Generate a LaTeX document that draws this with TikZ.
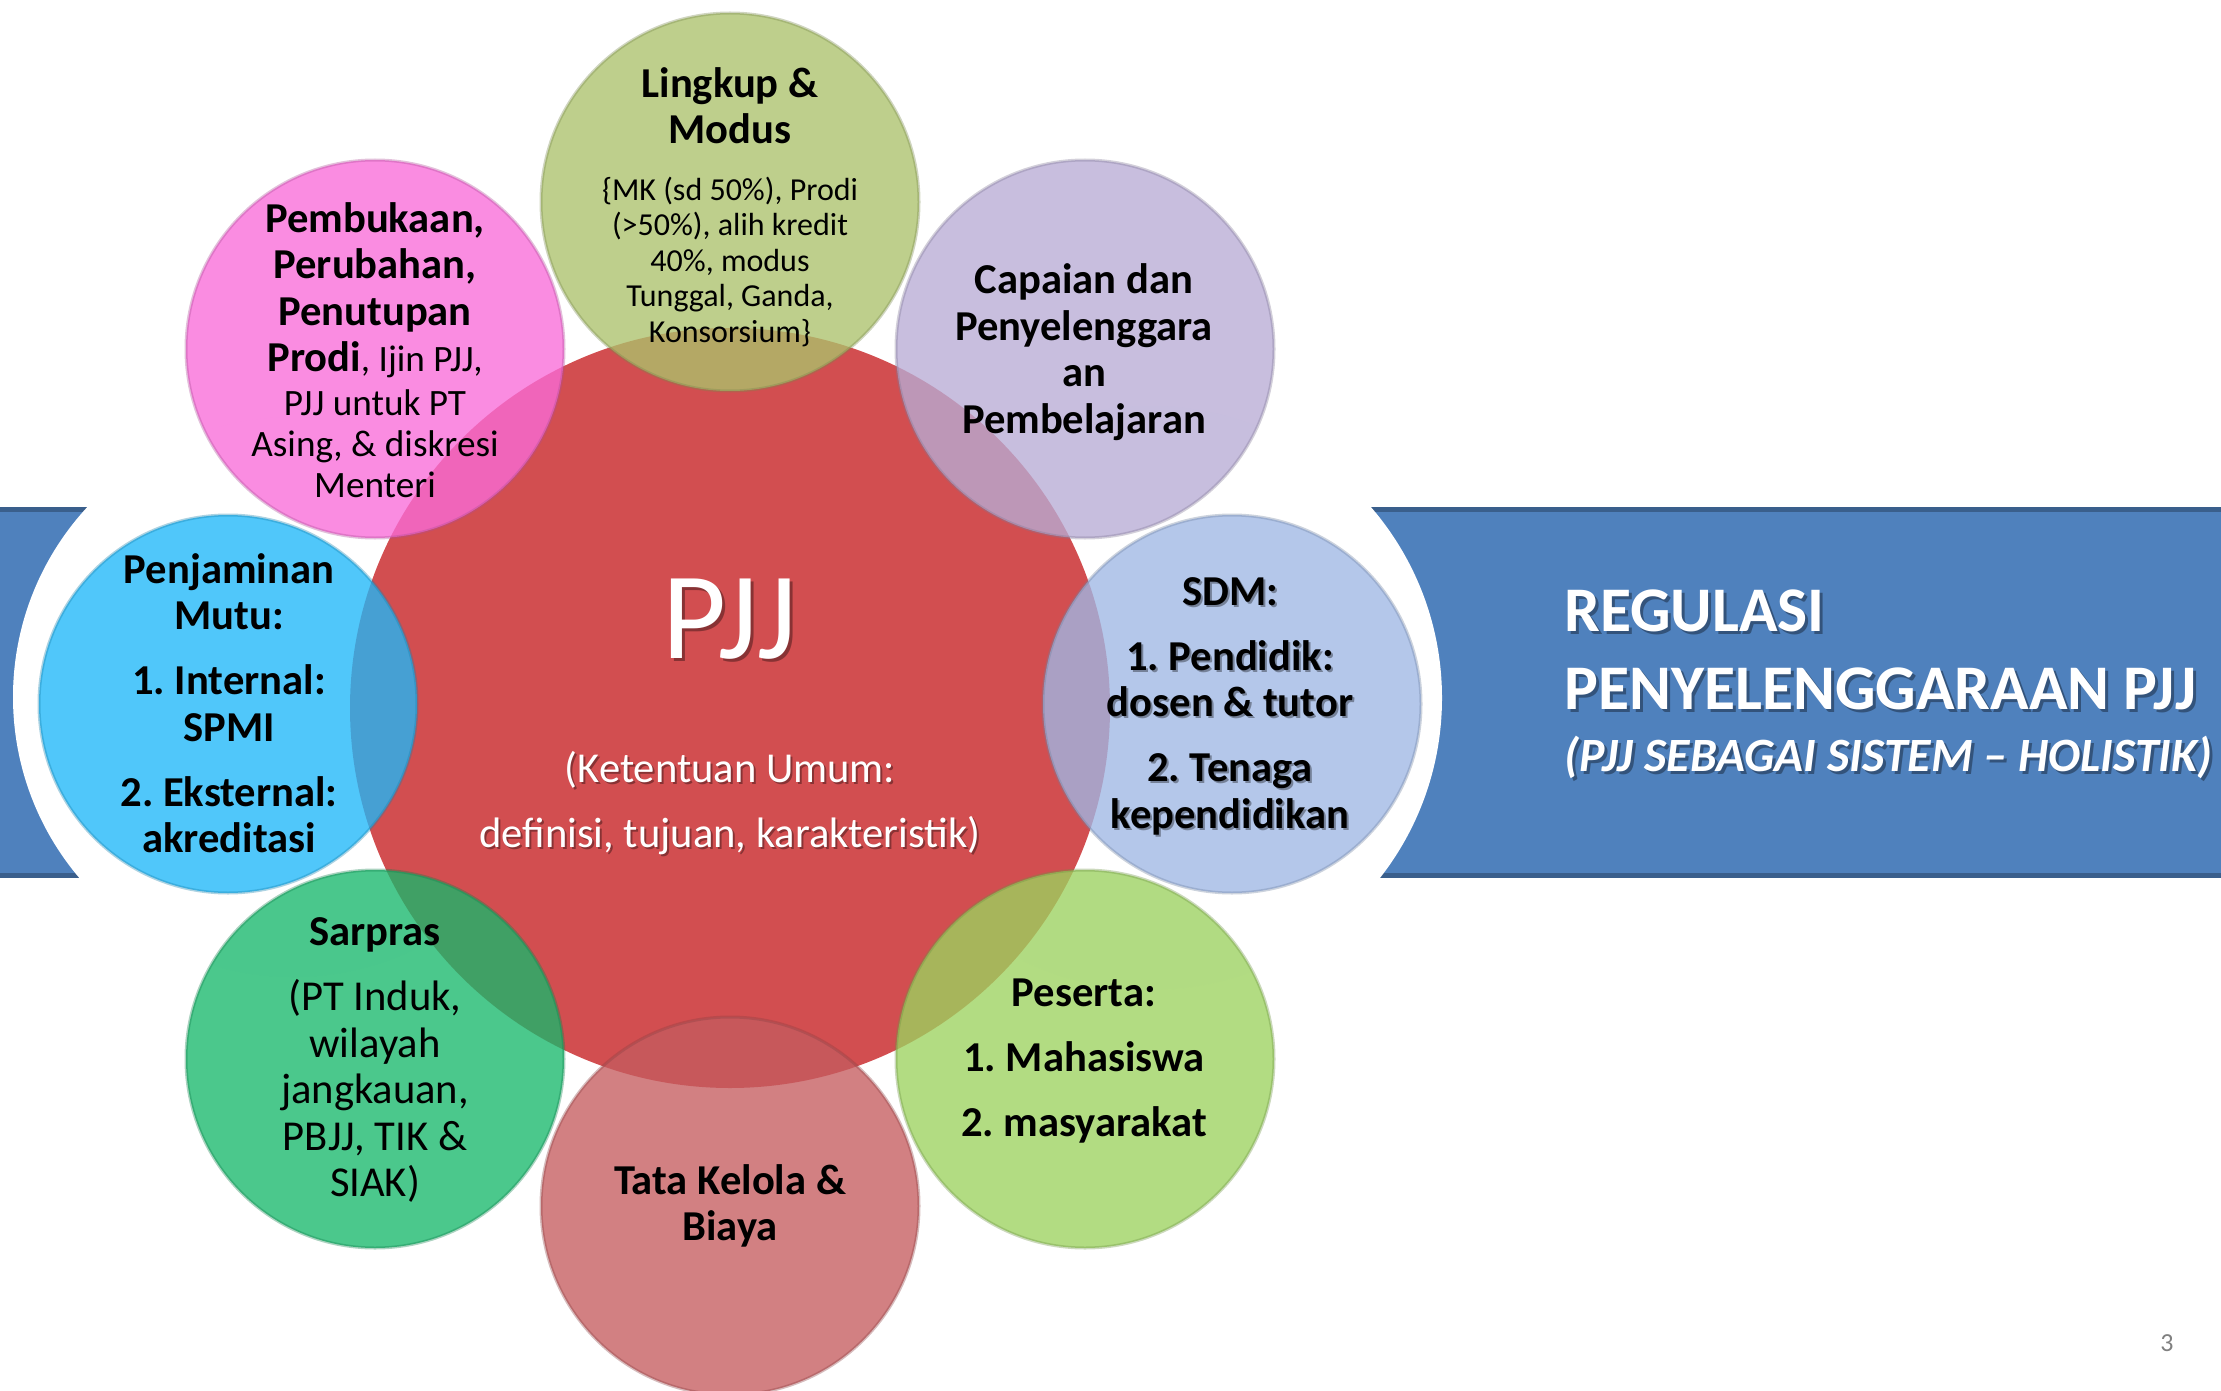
\documentclass[tikz,border=0pt]{standalone}
\usepackage{fontspec}
\setmainfont{Carlito}

% palette
\definecolor{bandblue}{RGB}{79,129,189}
\definecolor{bandedge}{RGB}{58,95,140}
\definecolor{hubred}{RGB}{210,78,80}
\definecolor{cLingkup}{RGB}{172,194,108}
\definecolor{cBuka}{RGB}{249,108,217}
\definecolor{cCapai}{RGB}{184,172,213}
\definecolor{cSdm}{RGB}{159,184,229}
\definecolor{cPeserta}{RGB}{156,210,95}
\definecolor{cTata}{RGB}{197,92,95}
\definecolor{cSarpras}{RGB}{24,184,108}
\definecolor{cMutu}{RGB}{31,184,249}
\definecolor{pagegray}{RGB}{128,128,128}

\newcommand\bubtitle{\fontsize{21.3}{23.25}\selectfont\bfseries}
\newcommand\bubreg{\fontsize{21.3}{23.25}\selectfont\mdseries}
\newcommand\bubsmall{\fontsize{16}{17.5}\selectfont\mdseries}
\newcommand\bubmid{\fontsize{18.6}{20.5}\selectfont\mdseries}

\begin{document}
\frenchspacing
\begin{tikzpicture}[x=0.5pt,y=-0.5pt,
  bubble/.style={circle, minimum size=189pt, inner sep=0pt, fill=#1,
    fill opacity=0.78, draw=#1!70!black, draw opacity=0.35, line width=1.5pt},
  label/.style={align=center, inner sep=0pt, text=black},
  shade/.style={text=black, text opacity=0.35},
]
\useasboundingbox (0,0) rectangle (2221,1391);

% ---- blue band, cut by two white arcs around the cluster ----
\fill[bandblue] (0,507) rectangle (300,878);
\fill[bandedge] (0,507) rectangle (300,512);
\fill[bandedge] (0,873) rectangle (300,878);
\fill[white] (293,697) circle[radius=280];

\fill[bandblue] (1140,507) rectangle (2221,878);
\fill[bandedge] (1140,507) rectangle (2221,512);
\fill[bandedge] (1140,873) rectangle (2221,878);
\fill[white] (1150,698) circle[radius=292];

% ---- hub ----
\node[circle, minimum size=380pt, inner sep=0pt, fill=hubred] (hub) at (730,708) {};

% ---- satellites ----
\node[bubble=cLingkup] (lingkup) at (730,202) {};
\node[bubble=cCapai]   (capaian) at (1085,349) {};
\node[bubble=cSdm]     (sdm) at (1232,704) {};
\node[bubble=cPeserta] (peserta) at (1085,1059) {};
\node[bubble=cTata]    (tata) at (730,1206) {};
\node[bubble=cSarpras] (sarpras) at (375,1059) {};
\node[bubble=cMutu]    (mutu) at (228,704) {};
\node[bubble=cBuka]    (buka) at (375,349) {};

% ---- hub text ----
\node[label, shade, font=\fontsize{62}{66}\selectfont] (pjjShade) at (733,622) {PJJ};
\node[label, text=white, font=\fontsize{62}{66}\selectfont] (pjjTitle) at (730,619) {PJJ};
\node[label, shade, font=\bubreg] (ketShade) at (732,805)
  {(Ketentuan Umum:\\[9.25pt]definisi, tujuan, karakteristik)};
\node[label, text=white, font=\bubreg] (ketText) at (730,803)
  {(Ketentuan Umum:\\[9.25pt]definisi, tujuan, karakteristik)};

% ---- satellite text ----
\node[label, font=\bubtitle] (lingkupText) at (730,207)
  {Lingkup \&\\Modus\\[5pt]
   {\bubsmall \{MK (sd 50\%), Prodi}\\[-5.5pt]
   {\bubsmall (>50\%), alih kredit}\\[-5.5pt]
   {\bubsmall 40\%, modus}\\[-5.5pt]
   {\bubsmall Tunggal, Ganda,}\\[-5.5pt]
   {\bubsmall Konsorsium\}}};

\node[label, font=\bubtitle] (bukaText) at (375,350)
  {Pembukaan,\\Perubahan,\\Penutupan\\
   Prodi{\bubmid, Ijin PJJ,}\\[-1.25pt]
   {\bubmid PJJ untuk PT}\\[-2.75pt]
   {\bubmid Asing, \& diskresi}\\[-2.75pt]
   {\bubmid Menteri}};

\node[label, font=\bubtitle] (capaianText) at (1084,352)
  {Capaian dan\\Penyelenggara\\an\\Pembelajaran};

\node[label, shade, font=\bubtitle] (sdmShade) at (1232,708)
  {SDM:\\[9.25pt]1. Pendidik:\\dosen \& tutor\\[9.25pt]2. Tenaga\\kependidikan};
\node[label, font=\bubtitle] (sdmText) at (1230,706)
  {SDM:\\[9.25pt]1. Pendidik:\\dosen \& tutor\\[9.25pt]2. Tenaga\\kependidikan};

\node[label, font=\bubtitle] (pesertaText) at (1084,1061)
  {Peserta:\\[9.25pt]1. Mahasiswa\\[9.25pt]2. masyarakat};

\node[label, font=\bubtitle] (tataText) at (730,1206)
  {Tata Kelola \&\\Biaya};

\node[label, font=\bubtitle] (sarprasText) at (375,1060)
  {Sarpras\\[9.25pt]
   {\bubreg (PT Induk,}\\{\bubreg wilayah}\\{\bubreg jangkauan,}\\
   {\bubreg PBJJ, TIK \&}\\{\bubreg SIAK)}};

\node[label, font=\bubtitle] (mutuText) at (229,703)
  {Penjaminan\\Mutu:\\[9.25pt]1. Internal:\\SPMI\\[9.25pt]2. Eksternal:\\akreditasi};

% ---- banner title ----
\node[align=left, inner sep=0pt, anchor=west, shade, font=\fontsize{31.8}{39}\selectfont\bfseries]
  (titleShade) at (1567,687)
  {REGULASI\\PENYELENGGARAAN PJJ\\[-8pt]{\fontsize{23.9}{27}\selectfont\itshape (PJJ SEBAGAI SISTEM \textendash{} HOLISTIK)}};
\node[align=left, inner sep=0pt, anchor=west, text=white, font=\fontsize{31.8}{39}\selectfont\bfseries]
  (titleText) at (1564,684)
  {REGULASI\\PENYELENGGARAAN PJJ\\[-8pt]{\fontsize{23.9}{27}\selectfont\itshape (PJJ SEBAGAI SISTEM \textendash{} HOLISTIK)}};

% ---- slide number ----
\node[inner sep=0pt, text=pagegray, font=\fontsize{13}{15}\selectfont] (pageNo) at (2167,1343) {3};
\end{tikzpicture}
\end{document}
